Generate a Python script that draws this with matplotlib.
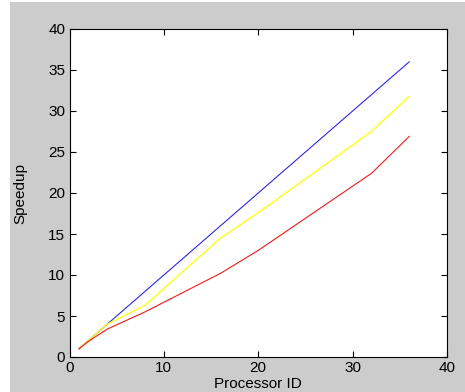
import numpy as np
from matplotlib import pyplot as plt
from matplotlib.patches import Rectangle

# processor counts and measured speedups
procs = [1, 2, 4, 8, 16, 20, 32, 36]
ideal = [1, 2, 4, 8, 16, 20, 32, 36]
yellow_speedup = [1, 2.0, 4.0, 6.3, 14.5, 17.6, 27.5, 31.8]
red_speedup = [1, 1.9, 3.4, 5.5, 10.2, 13.0, 22.4, 26.9]

xticks = [0, 10, 20, 30, 40]
yticks = [0, 5, 10, 15, 20, 25, 30, 35, 40]

plt.rcParams['font.family'] = ['Liberation Sans', 'DejaVu Sans']
plt.rcParams['font.size'] = 9

fig = plt.figure(figsize=(4.65, 3.92), dpi=100, facecolor='white')
# gray panel like the matlab window
fig.patches.append(Rectangle((10/465, 0), 1, 1 - 2/392, transform=fig.transFigure,
                             facecolor='#cccccc', edgecolor='none', zorder=-1))

ax = fig.add_axes([69.5/465, 35/392, (447-69.5)/465, (357-29)/392])
ax.plot(ideal, ideal, color='#2a2ae6', lw=0.8)
ax.plot(procs, yellow_speedup, color='#ffff00', lw=0.9)
ax.plot(procs, red_speedup, color='#ee1a1a', lw=0.8)

ax.set_xlim(0, 40)
ax.set_ylim(0, 40)
ax.set_xticks(xticks)
ax.set_yticks(yticks)
ax.tick_params(direction='in', top=True, right=True, length=4, width=0.8,
               labelsize=11, pad=3)
for s in ax.spines.values():
    s.set_linewidth(0.8)
ax.set_xlabel('Processor ID', fontsize=11, labelpad=1)
ax.set_ylabel('Speedup', fontsize=11, labelpad=15)

fig.savefig('out.png', dpi=100)
